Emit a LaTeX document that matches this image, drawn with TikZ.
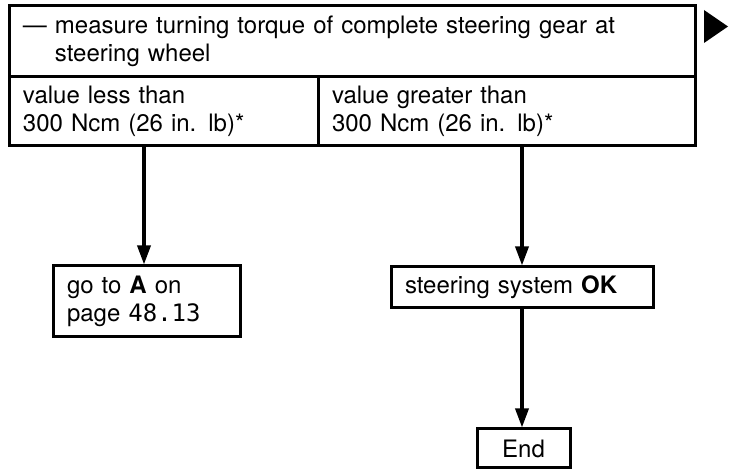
\documentclass[tikz,border=0pt]{standalone}
\usepackage{fontspec}
\setmainfont{TeX Gyre Heros}
\setmonofont{DejaVu Sans Mono}
\usetikzlibrary{arrows.meta}
\begin{document}
\begin{tikzpicture}[x=1pt,y=-1pt,line width=3pt,
  box/.style={draw,rectangle,inner xsep=14pt,inner ysep=0pt,align=left,
    font=\fontsize{24}{28}\selectfont},
  flow/.style={line width=3.4pt,-{Triangle[length=19pt,width=13pt]}}]
\useasboundingbox (0,0) rectangle (729,470);
\node[box,minimum width=686pt,minimum height=71pt,text width=658pt] (measure) at (352,41.5)
  {--- measure turning torque of complete steering gear at\\\phantom{--- }steering wheel};
\node[box,minimum width=309pt,minimum height=69pt,text width=281pt] (less) at (163.5,111.5)
  {value less than\\300 Ncm (26 in. lb)*};
\node[box,minimum width=377pt,minimum height=69pt,text width=349pt] (greater) at (506.5,111.5)
  {value greater than\\300 Ncm (26 in. lb)*};
\node[box,minimum width=187pt,minimum height=71pt,text width=159pt] (goto) at (146.5,301.5)
  {go to \textbf{A} on\\page \texttt{48.13}};
\node[box,minimum width=262pt,minimum height=41pt,text width=234pt] (ok) at (522,287.5)
  {steering system \textbf{OK}};
\node[box,align=center,minimum width=93pt,minimum height=39pt,text width=65pt] (end) at (523.5,448.5)
  {End};
\draw[flow] ([xshift=-2.5pt]goto.north |- less.south) -- ([xshift=-2.5pt]goto.north);
\draw[flow] (ok.north |- greater.south) -- (ok.north);
\draw[flow] (ok.south) -- (ok.south |- end.north);
% next page marker
\fill (704,10) -- (728,26.5) -- (704,43) -- cycle;
\end{tikzpicture}
\end{document}
